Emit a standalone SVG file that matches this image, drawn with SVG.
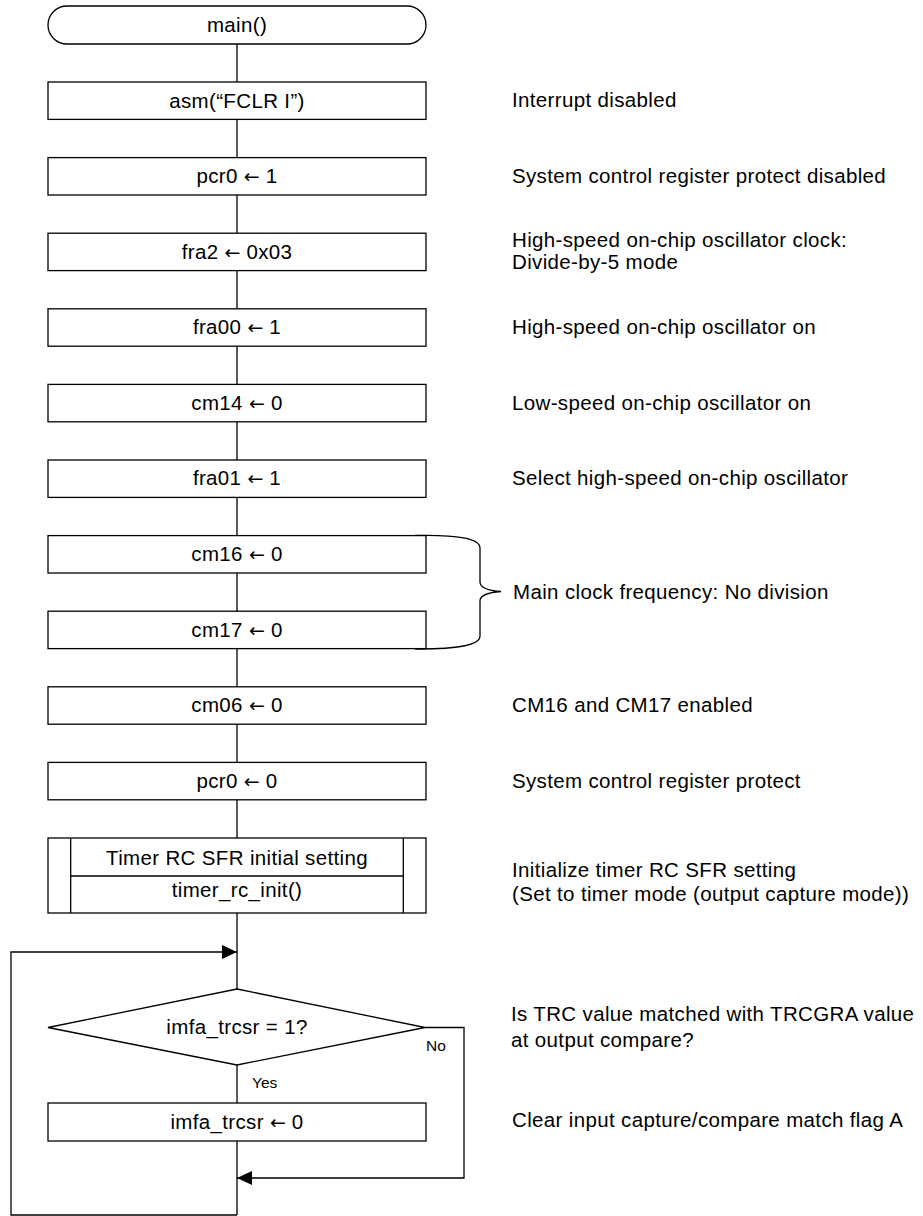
<svg xmlns="http://www.w3.org/2000/svg" width="923" height="1216" viewBox="0 0 923 1216">
<defs>
<style>
.s{fill:#fff;stroke:#000;stroke-width:1.3}
.l{fill:none;stroke:#000;stroke-width:1.3}
text{font-family:"Liberation Sans",Arial,sans-serif;font-size:20.5px;letter-spacing:0.35px;fill:#000}
.c{text-anchor:middle}
.sm{font-size:15.5px;letter-spacing:0}
.ar{font-family:"DejaVu Sans",sans-serif;font-size:19px;letter-spacing:0}
</style>
<marker id="ah" markerWidth="16" markerHeight="16" refX="15" refY="7" orient="auto" markerUnits="userSpaceOnUse">
<path d="M0,0 L15,7 L0,14 Z" fill="#000"/>
</marker>
</defs>
<rect width="923" height="1216" fill="#fff"/>
<g id="connectors">
<path class="l" d="M237,44 V82 M237,119.4 V157.6 M237,195 V233.2 M237,270.6 V308.8 M237,346.2 V384.4 M237,421.8 V460 M237,497.4 V535.6 M237,573 V611.2 M237,648.6 V686.8 M237,724.2 V762.4 M237,799.8 V838 M237,913 V989 M237,1065 V1103 M237,1141 V1215"/>
<path class="l" d="M237,1215 H11 V952 H237" marker-end="url(#ah)"/>
<path class="l" d="M425,1027.5 H464 V1178 H237" marker-end="url(#ah)"/>
<path class="l" d="M415,535.5 Q480,534 480,548 L480,582 Q480,590 501,591.5 Q480,593 480,601 L480,636 Q480,649.5 415,649"/>
</g>
<g id="start">
<rect class="s" x="48" y="6" width="378" height="38" rx="19" ry="19"/>
<text class="c" x="237" y="32">main()</text>
</g>
<g id="n1">
<rect class="s" x="48" y="82" width="378" height="37.4"/>
<text class="c" x="237" y="107.5">asm(“FCLR I”)</text>
<text x="512" y="107">Interrupt disabled</text>
</g>
<g id="n2">
<rect class="s" x="48" y="157.6" width="378" height="37.4"/>
<text class="c" x="237" y="183">pcr0 <tspan class="ar">←</tspan> 1</text>
<text x="512" y="182.7">System control register protect disabled</text>
</g>
<g id="n3">
<rect class="s" x="48" y="233.2" width="378" height="37.4"/>
<text class="c" x="237" y="258.5">fra2 <tspan class="ar">←</tspan> 0x03</text>
<text x="512" y="246.5">High-speed on-chip oscillator clock:</text>
<text x="512" y="269">Divide-by-5 mode</text>
</g>
<g id="n4">
<rect class="s" x="48" y="308.8" width="378" height="37.4"/>
<text class="c" x="237" y="334">fra00 <tspan class="ar">←</tspan> 1</text>
<text x="512" y="334">High-speed on-chip oscillator on</text>
</g>
<g id="n5">
<rect class="s" x="48" y="384.4" width="378" height="37.4"/>
<text class="c" x="237" y="409.5">cm14 <tspan class="ar">←</tspan> 0</text>
<text x="512" y="409.5">Low-speed on-chip oscillator on</text>
</g>
<g id="n6">
<rect class="s" x="48" y="460" width="378" height="37.4"/>
<text class="c" x="237" y="485">fra01 <tspan class="ar">←</tspan> 1</text>
<text x="512" y="485">Select high-speed on-chip oscillator</text>
</g>
<g id="n7">
<rect class="s" x="48" y="535.6" width="378" height="37.4"/>
<text class="c" x="237" y="561">cm16 <tspan class="ar">←</tspan> 0</text>
</g>
<g id="n8">
<rect class="s" x="48" y="611.2" width="378" height="37.4"/>
<text class="c" x="237" y="636.5">cm17 <tspan class="ar">←</tspan> 0</text>
</g>
<g id="brace-label">
<text x="513" y="598.5">Main clock frequency: No division</text>
</g>
<g id="n9">
<rect class="s" x="48" y="686.8" width="378" height="37.4"/>
<text class="c" x="237" y="712">cm06 <tspan class="ar">←</tspan> 0</text>
<text x="512" y="712">CM16 and CM17 enabled</text>
</g>
<g id="n10">
<rect class="s" x="48" y="762.4" width="378" height="37.4"/>
<text class="c" x="237" y="788">pcr0 <tspan class="ar">←</tspan> 0</text>
<text x="512" y="788">System control register protect</text>
</g>
<g id="n11">
<rect class="s" x="48" y="838" width="378" height="75"/>
<path class="l" d="M70.7,838 V913 M403.3,838 V913 M70.7,876 H403.3"/>
<text class="c" x="237" y="865">Timer RC SFR initial setting</text>
<text class="c" x="237" y="896.5">timer_rc_init()</text>
<text x="512" y="877">Initialize timer RC SFR setting</text>
<text x="512" y="901">(Set to timer mode (output capture mode))</text>
</g>
<g id="n12">
<polygon class="s" points="237,989 425,1027.5 237,1065 48,1027.5"/>
<text class="c" x="237" y="1034">imfa_trcsr = 1?</text>
<text class="sm" x="426" y="1051">No</text>
<text class="sm" x="252" y="1088">Yes</text>
<text x="511" y="1021">Is TRC value matched with TRCGRA value</text>
<text x="511" y="1046.5">at output compare?</text>
</g>
<g id="n13">
<rect class="s" x="48" y="1103" width="378" height="38"/>
<text class="c" x="237" y="1128.5">imfa_trcsr <tspan class="ar">←</tspan> 0</text>
<text x="512" y="1127">Clear input capture/compare match flag A</text>
</g>
</svg>
